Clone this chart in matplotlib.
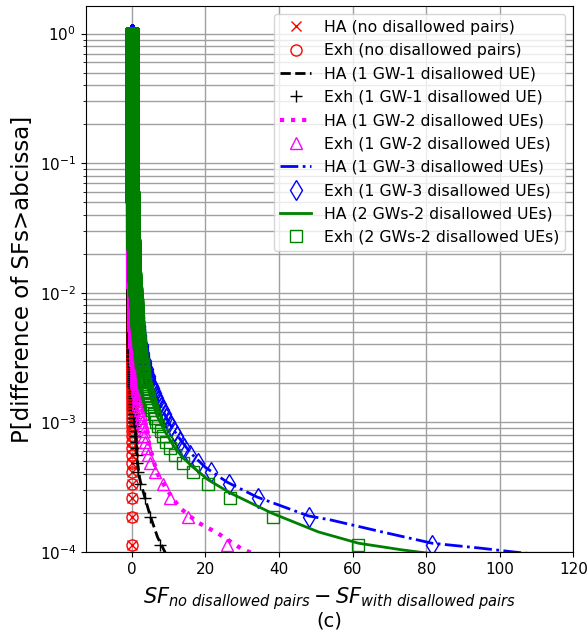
import numpy as np
import matplotlib
matplotlib.use("Agg")
import matplotlib.pyplot as plt

# SF difference samples per scenario: distinct value and number of drops with that value.
# Exhaustive search results
EXH_NONE_VALUES = [0.0]
EXH_NONE_COUNTS = [13333]

EXH_GW1_VALUES = [12.0, 7.7, 4.9, 3.6, 2.2, 1.8, 1.5, 1.3,
                  1.1, 0.9, 0.7, 0.5, 0.3, 0.15, 0.0]
EXH_GW1_COUNTS = [1, 1, 1, 1, 1, 1, 1, 1,
                  2, 3, 4, 8, 15, 40, 13253]

EXH_GW2_VALUES = [40.0, 25.8, 15.3, 10.5, 8.4, 6.4, 5.0, 4.4, 4.0, 3.7, 3.4, 3.2,
                  3.0, 2.8, 2.6, 2.4, 2.2, 2.0,
                  1.8, 1.6, 1.4, 1.2, 1.0, 0.8, 0.6, 0.4, 0.25, 0.1, 0.0]
EXH_GW2_COUNTS = [1, 1, 1, 1, 1, 1, 1, 1, 1, 1, 1, 1,
                  1, 1, 1, 1, 1, 1,
                  2, 3, 4, 6, 7, 15, 20, 35, 50, 240, 12933]

EXH_GW3_VALUES = [115.0, 81.6, 48.2, 34.2, 26.4, 21.4, 18.1, 15.9, 14.3, 13.1,
                  12.2, 11.4, 10.7, 10.0, 9.4, 8.9, 8.4, 8.0, 7.6, 7.2,
                  6.9, 6.6, 6.3, 6.0, 5.7, 5.4, 5.1,
                  4.6, 4.1, 3.6, 3.1, 2.7, 2.3, 2.0, 1.7, 1.4, 1.2,
                  0.9, 0.7, 0.5, 0.3, 0.2, 0.1, 0.0]
EXH_GW3_COUNTS = [1, 1, 1, 1, 1, 1, 1, 1, 1, 1,
                  1, 1, 1, 1, 1, 1, 1, 1, 1, 1,
                  1, 1, 1, 1, 1, 1, 1,
                  4, 4, 5, 6, 7, 10, 12, 15, 20, 25,
                  40, 60, 80, 120, 300, 600, 11998]

EXH_2GW_VALUES = [95.0, 61.6, 38.4, 26.8, 20.8, 16.7, 14.0, 11.8, 10.3, 9.3,
                  8.5, 7.8, 7.2, 6.7, 6.3, 5.9, 5.6, 5.3, 5.0, 4.8,
                  4.6, 4.4, 4.2, 4.0, 3.8, 3.6, 3.5,
                  3.2, 2.9, 2.6, 2.3, 2.0, 1.8, 1.5, 1.3, 1.1,
                  0.9, 0.7, 0.5, 0.3, 0.2, 0.1, 0.0]
EXH_2GW_COUNTS = [1, 1, 1, 1, 1, 1, 1, 1, 1, 1,
                  1, 1, 1, 1, 1, 1, 1, 1, 1, 1,
                  1, 1, 1, 1, 1, 1, 1,
                  5, 6, 7, 8, 10, 12, 15, 20, 25,
                  40, 60, 80, 120, 300, 600, 11998]

# Heuristic algorithm
HA_NONE_VALUES = [0.0]
HA_NONE_COUNTS = [13333]

HA_GW1_X = [0.0, 0.1, 0.3, 0.8, 1.5, 2.2, 3.6, 5.0, 7.0, 9.0, 10.0]
HA_GW1_Y = [1.0, 1e-2, 3e-3, 1e-3, 5e-4, 3.6e-4, 2.6e-4, 1.9e-4, 1.3e-4, 1.0e-4, 0.9e-4]

HA_GW2_X = [0.0, 0.3, 1.0, 2.0, 3.0, 4.0, 5.5, 7.0, 9.6, 13.0, 17.8, 23.3, 29.6, 32.0, 36.0]
HA_GW2_Y = [1.0, 3e-2, 6e-3, 2.2e-3, 1.2e-3, 8e-4, 5.5e-4, 4e-4, 3.0e-4, 2.2e-4,
            1.7e-4, 1.4e-4, 1.07e-4, 1.0e-4, 0.9e-4]

HA_GW3_X = [0.0, 0.2, 0.5, 1.0, 2.0, 3.0, 5.0, 7.5, 10.0, 13.0, 16.0, 20.0, 26.0,
            34.0, 48.0, 54.0, 68.0, 81.6, 95.0, 104.0, 115.0]
HA_GW3_Y = [1.0, 0.1, 0.03, 1.2e-2, 5e-3, 3.2e-3, 2e-3, 1.4e-3, 1.0e-3, 7.5e-4, 5.8e-4,
            4.5e-4, 3.45e-4, 2.66e-4, 1.9e-4, 1.77e-4, 1.43e-4, 1.17e-4, 1.07e-4,
            1.0e-4, 0.93e-4]

HA_2GW_X = [0.0, 0.2, 0.5, 1.0, 1.5, 2.5, 3.5, 5.0, 7.0, 9.0, 11.8, 14.0, 16.7, 20.8,
            26.8, 38.0, 50.7, 61.6, 73.4, 78.0, 85.0]
HA_2GW_Y = [1.0, 0.1, 0.03, 1.1e-2, 6e-3, 3.5e-3, 2.3e-3, 1.6e-3, 1.1e-3, 8.5e-4,
            6.3e-4, 5.3e-4, 4.5e-4, 3.6e-4, 2.85e-4, 2.0e-4, 1.43e-4, 1.17e-4,
            1.04e-4, 1.0e-4, 0.95e-4]


def ccdf(values, counts):
    """Sorted samples (largest first) with their exceedance plotting positions."""
    samples = np.sort(np.repeat(values, counts))[::-1]
    n = samples.size
    prob = (np.arange(1, n + 1) - 0.5) / n
    return samples, prob


fig = plt.figure(figsize=(5.88, 6.36), dpi=100)
ax = fig.add_axes([0.146, 0.132, 0.829, 0.859])

x, y = ccdf(HA_NONE_VALUES, HA_NONE_COUNTS)
ax.plot(x, y, ls="none", marker="x", ms=7, mec="red", mew=1.0,
        label="HA (no disallowed pairs)")
x, y = ccdf(EXH_NONE_VALUES, EXH_NONE_COUNTS)
ax.plot(x, y, ls="none", marker="o", ms=8, mfc="none", mec="red", mew=1.0,
        label="Exh (no disallowed pairs)")

ax.plot(HA_GW1_X, HA_GW1_Y, "k--", lw=2, label="HA (1 GW-1 disallowed UE)")
x, y = ccdf(EXH_GW1_VALUES, EXH_GW1_COUNTS)
ax.plot(x, y, ls="none", marker="+", ms=9, mec="black", mew=1.0,
        label="Exh (1 GW-1 disallowed UE)")

ax.plot(HA_GW2_X, HA_GW2_Y, ls=":", color="magenta", lw=3,
        label="HA (1 GW-2 disallowed UEs)")
x, y = ccdf(EXH_GW2_VALUES, EXH_GW2_COUNTS)
ax.plot(x, y, ls="none", marker="^", ms=9, mfc="none", mec="magenta", mew=1.0,
        label="Exh (1 GW-2 disallowed UEs)")

ax.plot(HA_GW3_X, HA_GW3_Y, ls="-.", color="blue", lw=2,
        label="HA (1 GW-3 disallowed UEs)")
x, y = ccdf(EXH_GW3_VALUES, EXH_GW3_COUNTS)
ax.plot(x, y, ls="none", marker="d", ms=10, mfc="none", mec="blue", mew=1.0,
        label="Exh (1 GW-3 disallowed UEs)")

ax.plot(HA_2GW_X, HA_2GW_Y, ls="-", color="green", lw=2,
        label="HA (2 GWs-2 disallowed UEs)")
x, y = ccdf(EXH_2GW_VALUES, EXH_2GW_COUNTS)
ax.plot(x, y, ls="none", marker="s", ms=9, mfc="none", mec="green", mew=1.0,
        label="Exh (2 GWs-2 disallowed UEs)")

ax.set_yscale("log")
ax.set_xlim(-12.5, 120)
ax.set_ylim(1e-4, 1.64)
ax.set_xticks([0, 20, 40, 60, 80, 100, 120])
ax.tick_params(labelsize=11)
ax.grid(True, which="both", color="#a0a0a0", lw=1.0)

ax.set_ylabel("P[difference of SFs>abcissa]", fontsize=16.5)
ax.set_xlabel(r"$SF_{no\ disallowed\ pairs} - SF_{with\ disallowed\ pairs}$",
              fontsize=15, labelpad=6)
fig.text(0.56, 0.024, "(c)", ha="center", va="center", fontsize=14)

ax.legend(loc="upper right", fontsize=11.3, labelspacing=0.53)

fig.savefig("out.png", dpi=100)
